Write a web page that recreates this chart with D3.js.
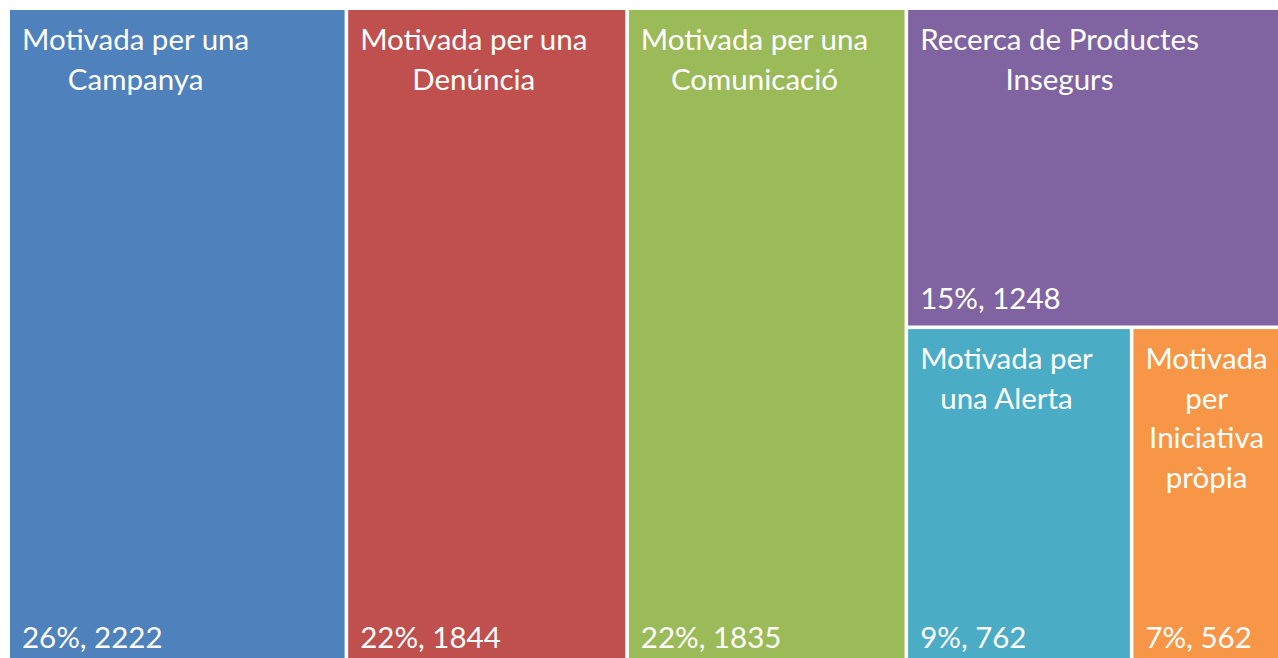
<!DOCTYPE html>
<html><head><meta charset="utf-8">
<script src="https://cdn.jsdelivr.net/npm/d3@7"></script>
<style>html,body{margin:0;padding:0;background:#fff;overflow:hidden}svg{display:block}</style>
</head><body>
<svg id="chart" width="1278" height="658"></svg>
<script>
const categories = ["Motivada per una Campanya","Motivada per una Denúncia","Motivada per una Comunicació","Recerca de Productes Insegurs","Motivada per una Alerta","Motivada per Iniciativa pròpia"];
const values = [2222, 1844, 1835, 1248, 762, 562];
const labelLines = [
  ["Motivada per una","Campanya"],
  ["Motivada per una","Denúncia"],
  ["Motivada per una","Comunicació"],
  ["Recerca de Productes","Insegurs"],
  ["Motivada per","una Alerta"],
  ["Motivada","per","Iniciativa","pròpia"]
];
const colors = ["#4F81BD","#C0504D","#9BBB59","#8064A2","#4BACC6","#F79646"];

const total = d3.sum(values);
const leaf = i => ({name: categories[i], value: values[i], idx: i});
const tree = {children: [leaf(0), leaf(1), leaf(2), {children: [leaf(3), {children: [leaf(4), leaf(5)]}]}]};

const X0 = 10, Y0 = 10, W = 1286, H = 654;
const root = d3.hierarchy(tree).sum(d => d.value || 0);
d3.treemap().tile(d3.treemapSliceDice).size([W, H]).paddingInner(3.6).round(false)(root);

const svg = d3.select("#chart");
const g = svg.append("g").attr("transform", `translate(${X0},${Y0})`);
const fmt = d => Math.round(d / total * 100) + "%, " + d;
const FONT = "Lato, 'Open Sans', sans-serif";
const FS = 29.5, LH = 39.5, PAD = 12;

const cell = g.selectAll("g.cell").data(root.leaves()).join("g").attr("class","cell");
cell.append("rect")
  .attr("x", d => d.x0).attr("y", d => d.y0)
  .attr("width", d => d.x1 - d.x0).attr("height", d => d.y1 - d.y0)
  .attr("fill", d => colors[d.data.idx]);

cell.each(function(d) {
  const sel = d3.select(this);
  const lines = labelLines[d.data.idx];
  const t = sel.append("text").attr("font-family", FONT).attr("font-size", FS).attr("fill", "#fff");
  lines.forEach((l, k) => t.append("tspan").attr("y", d.y0 + 40 + k * LH).text(l));
  const widths = t.selectAll("tspan").nodes().map(n => n.getComputedTextLength());
  const maxW = d3.max(widths);
  const cx = d.x0 + PAD + maxW / 2;
  t.selectAll("tspan").attr("x", cx).attr("text-anchor", "middle");
  sel.append("text").attr("font-family", FONT).attr("font-size", FS).attr("fill", "#fff")
    .attr("x", d.x0 + PAD).attr("y", d.y1 - 16).text(fmt(d.data.value));
});
</script>
</body></html>
